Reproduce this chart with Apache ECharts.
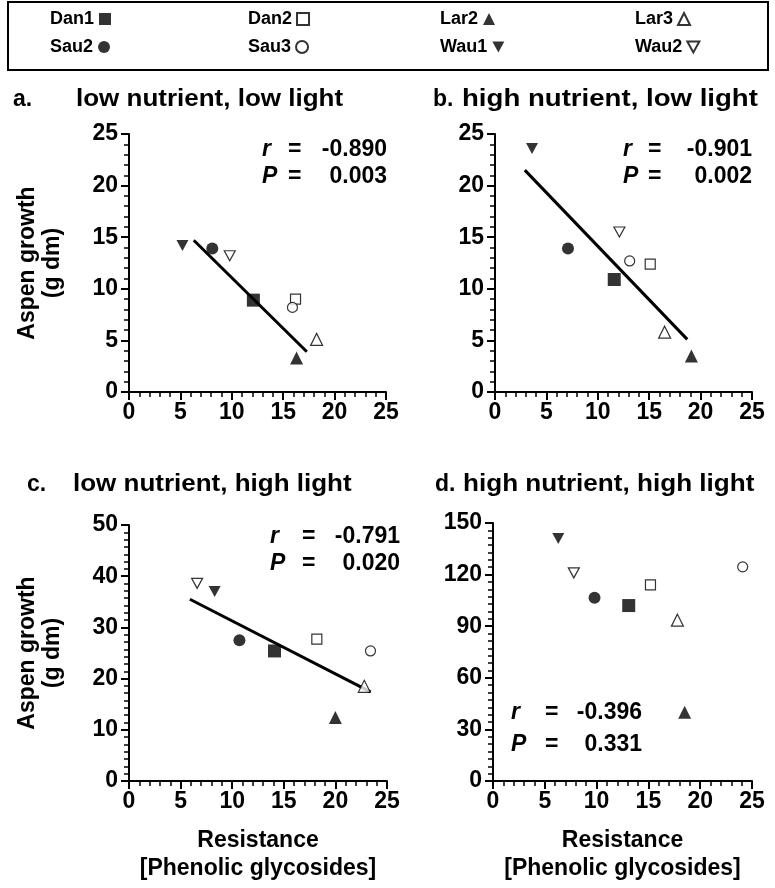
<!DOCTYPE html>
<html>
<head>
<meta charset="utf-8">
<script src="https://cdn.jsdelivr.net/npm/echarts@6/dist/echarts.min.js"></script>
<style>
  html, body { margin: 0; padding: 0; background: #fff; }
  #main { width: 775px; height: 888px; }
</style>
</head>
<body>
<div id="main"></div>
<script>
var names = ['Dan1', 'Dan2', 'Lar2', 'Lar3', 'Sau2', 'Sau3', 'Wau1', 'Wau2'];

// a. low nutrient, low light
var resA = [12.1, 16.2, 16.3, 18.25, 8.1, 15.9, 5.2, 9.8];
var growA = [8.9, 9.0, 3.3, 5.1, 13.9, 8.2, 14.2, 13.2];
var fitA = [[6.3, 14.7], [17.3, 3.9]];
// b. high nutrient, low light
var resB = [11.6, 15.1, 19.1, 16.5, 7.1, 13.1, 3.6, 12.1];
var growB = [10.9, 12.4, 3.5, 5.8, 13.9, 12.7, 23.6, 15.5];
var fitB = [[2.9, 21.5], [18.7, 5.1]];
// c. low nutrient, high light
var resC = [14.1, 18.2, 20.0, 22.8, 10.7, 23.4, 8.3, 6.6];
var growC = [25.4, 27.7, 12.4, 18.5, 27.5, 25.4, 37.0, 38.6];
var fitC = [[5.9, 35.5], [23.4, 17.4]];
// d. high nutrient, high light (no fit line)
var resD = [13.1, 15.2, 18.5, 17.8, 9.8, 24.1, 6.3, 7.8];
var growD = [102, 114, 40, 93.5, 106.5, 124.5, 141, 121];

var panelLetters = ['a.', 'b.', 'c.', 'd.'];
var panelTitles = ['low nutrient, low light', 'high nutrient, low light', 'low nutrient, high light', 'high nutrient, high light'];
var statR = ['-0.890', '-0.901', '-0.791', '-0.396'];
var statP = ['0.003', '0.002', '0.020', '0.331'];
var yMax = [25, 25, 50, 150];
var yStep = [5, 5, 10, 30];

var FONT = 'Liberation Sans';
var downTri = 'path://M0,0L10,0L5,9Z';
var filled = {color: '#000'};
var hollow = {color: '#fff', borderColor: '#000', borderWidth: 1.2};
var sym = {
  Dan1: {symbol: 'rect', size: 13, style: filled},
  Dan2: {symbol: 'rect', size: 10, style: hollow},
  Lar2: {symbol: 'triangle', size: 13, style: filled},
  Lar3: {symbol: 'triangle', size: 12, style: hollow},
  Sau2: {symbol: 'circle', size: 12, style: filled},
  Sau3: {symbol: 'circle', size: 10, style: hollow},
  Wau1: {symbol: downTri, size: [12, 11], style: filled},
  Wau2: {symbol: downTri, size: [11, 10], style: hollow}
};

var grids = [
  {left: 129, top: 134, width: 257, height: 258},
  {left: 495, top: 134, width: 257, height: 258},
  {left: 129, top: 525, width: 258, height: 256},
  {left: 493, top: 523, width: 259, height: 258}
];

function axisBase() {
  return {
    type: 'value',
    axisLine: {show: true, lineStyle: {color: '#000', width: 2}},
    axisTick: {show: true, length: 8, lineStyle: {color: '#000', width: 2}},
    minorTick: {show: true, splitNumber: 5, length: 5, lineStyle: {color: '#000', width: 1.5}},
    splitLine: {show: false},
    axisLabel: {color: '#000', fontFamily: FONT, fontWeight: 'bold', fontSize: 23, margin: 11}
  };
}

var xAxes = [], yAxes = [];
for (var i = 0; i < 4; i++) {
  var xa = axisBase();
  xa.gridIndex = i; xa.min = 0; xa.max = 25; xa.interval = 5;
  xa.axisLabel.margin = 9;
  if (i >= 2) {
    xa.name = 'Resistance\n[Phenolic glycosides]';
    xa.nameLocation = 'middle';
    xa.nameGap = 46;
    xa.nameTextStyle = {color: '#000', fontFamily: FONT, fontWeight: 'bold', fontSize: 23, lineHeight: 28};
  }
  xAxes.push(xa);
  var ya = axisBase();
  ya.gridIndex = i; ya.min = 0; ya.max = yMax[i]; ya.interval = yStep[i];
  if (i >= 2) ya.minorTick.splitNumber = 7;
  if (i === 0 || i === 2) {
    ya.name = 'Aspen growth\n(g dm)';
    ya.nameLocation = 'middle';
    ya.nameGap = 64;
    ya.nameTextStyle = {color: '#000', fontFamily: FONT, fontWeight: 'bold', fontSize: 23, lineHeight: 25};
  }
  yAxes.push(ya);
}

var series = [];
function addPanel(idx, res, grow, fit) {
  names.forEach(function (n, k) {
    series.push({
      name: n,
      type: 'scatter',
      xAxisIndex: idx,
      yAxisIndex: idx,
      data: [[res[k], grow[k]]],
      symbol: sym[n].symbol,
      symbolSize: sym[n].size,
      itemStyle: sym[n].style,
      z: 3
    });
  });
  if (fit) {
    series.push({
      type: 'line',
      xAxisIndex: idx,
      yAxisIndex: idx,
      data: fit,
      symbol: 'none',
      lineStyle: {color: '#000', width: 3},
      silent: true,
      z: 2
    });
  }
}
addPanel(0, resA, growA, fitA);
addPanel(1, resB, growB, fitB);
addPanel(2, resC, growC, fitC);
addPanel(3, resD, growD, null);

// legend: one component per entry so the columns line up like the boxed key
var legendPos = {
  Dan1: [50, 10], Dan2: [248, 10], Lar2: [440, 10], Lar3: [635, 10],
  Sau2: [50, 38], Sau3: [248, 38], Wau1: [440, 38], Wau2: [635, 38]
};
var legends = names.map(function (n) {
  return {
    data: [n],
    left: legendPos[n][0],
    top: legendPos[n][1],
    padding: 0,
    align: 'right',
    selectedMode: false,
    itemWidth: 12,
    itemHeight: 12,
    textStyle: {color: '#000', fontFamily: FONT, fontWeight: 'bold', fontSize: 18}
  };
});

function txt(x, y, s, opts) {
  opts = opts || {};
  return {
    type: 'text', x: x, y: y, z: 10,
    scaleX: opts.sx || 1,
    style: {
      text: s,
      fill: '#000',
      font: (opts.italic ? 'italic ' : '') + 'bold ' + (opts.size || 23) + 'px "' + FONT + '"',
      align: opts.align || 'left',
      verticalAlign: 'middle'
    }
  };
}

var graphics = [
  {type: 'rect', shape: {x: 8, y: 2, width: 760, height: 68}, style: {fill: 'none', stroke: '#000', lineWidth: 2}}
];
// panel titles: [letter x, title x, y, horizontal stretch]
var titleXY = [[13, 76, 100, 1.13], [433, 462, 100, 1.2], [27, 73, 485, 1.13], [435, 463, 485, 1.135]];
for (var t = 0; t < 4; t++) {
  graphics.push(txt(titleXY[t][0], titleXY[t][2], panelLetters[t]));
  graphics.push(txt(titleXY[t][1], titleXY[t][2], panelTitles[t], {sx: titleXY[t][3]}));
}
// r / P annotations: [x of symbol, x of '=', right edge of number, y of r row, y of P row]
var statXY = [[262, 288, 387, 150, 177], [623, 648, 752, 150, 177], [270, 302, 400, 537, 564], [511, 545, 642, 713, 745]];
for (var s = 0; s < 4; s++) {
  var p = statXY[s];
  graphics.push(txt(p[0], p[3], 'r', {italic: true}));
  graphics.push(txt(p[1], p[3], '='));
  graphics.push(txt(p[2], p[3], statR[s], {align: 'right'}));
  graphics.push(txt(p[0], p[4], 'P', {italic: true}));
  graphics.push(txt(p[1], p[4], '='));
  graphics.push(txt(p[2], p[4], statP[s], {align: 'right'}));
}

var chart = echarts.init(document.getElementById('main'));
chart.setOption({
  backgroundColor: '#fff',
  animation: false,
  legend: legends,
  grid: grids,
  xAxis: xAxes,
  yAxis: yAxes,
  series: series,
  graphic: graphics
});
</script>
</body>
</html>
